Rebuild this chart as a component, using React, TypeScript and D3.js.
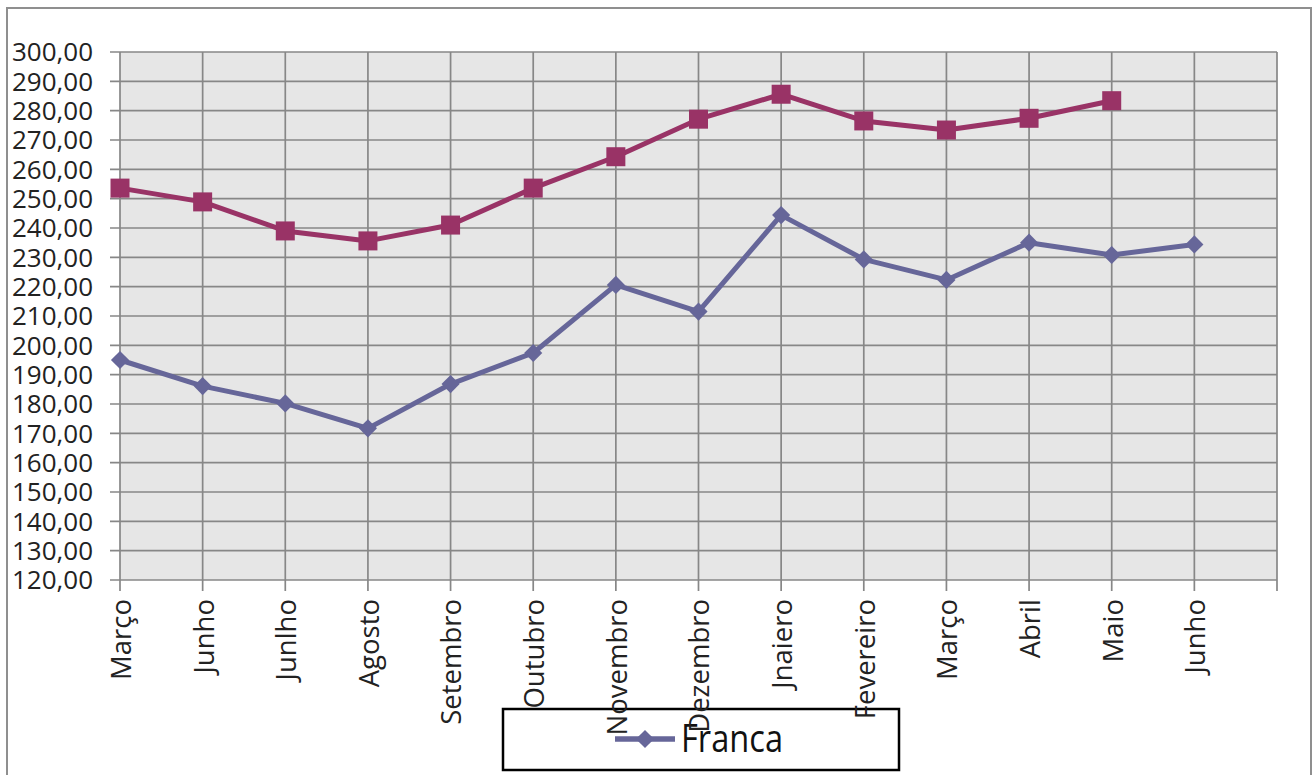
import React, { useEffect, useRef } from 'react';
import * as d3 from 'd3';

const categories = ['Março', 'Junho', 'Junlho', 'Agosto', 'Setembro', 'Outubro', 'Novembro', 'Dezembro', 'Jnaiero', 'Fevereiro', 'Março', 'Abril', 'Maio', 'Junho', ''];
const franca = [195.0, 186.1, 180.2, 171.7, 186.8, 197.4, 220.6, 211.5, 244.4, 229.3, 222.3, 235.0, 230.8, 234.4];
const outra = [253.6, 248.9, 239.0, 235.6, 241.0, 253.6, 264.3, 277.1, 285.6, 276.5, 273.4, 277.4, 283.4];
const yTicks = d3.range(120, 301, 10);

const W = 1313;
const H = 775;

const Chart: React.FC = () => {
    const svgRef = useRef<SVGSVGElement>(null);

    useEffect(() => {
        document.body.style.margin = '0';
        if (!svgRef.current) return;
        const svg = d3.select(svgRef.current);
        svg.selectAll('*').remove();

        const left = 120, right = 1277, top = 52, bottom = 580;
        const x = d3.scalePoint<number>()
            .domain(categories.map((_, i) => i))
            .range([left, right]);
        const y = d3.scaleLinear().domain([120, 300]).range([bottom, top]);
        const fmt = (v: number) => v.toFixed(2).replace('.', ',');
        const font = "'Open Sans', 'DejaVu Sans', sans-serif";
        const grid = '#878787';
        const maroon = '#993366';
        const blue = '#666699';

        // outer frame
        svg.append('rect')
            .attr('x', 7).attr('y', 8)
            .attr('width', 1304).attr('height', H + 20)
            .attr('fill', 'white')
            .attr('stroke', '#8f8f8f')
            .attr('stroke-width', 2);

        // plot background
        svg.append('rect')
            .attr('x', left).attr('y', top)
            .attr('width', right - left).attr('height', bottom - top)
            .attr('fill', '#e6e6e6');

        // horizontal grid + y ticks
        svg.append('g')
            .selectAll('line')
            .data(yTicks)
            .join('line')
            .attr('x1', left - 10)
            .attr('x2', right)
            .attr('y1', d => y(d))
            .attr('y2', d => y(d))
            .style('stroke', grid)
            .style('stroke-width', 1.7);

        // vertical grid + x ticks
        svg.append('g')
            .selectAll('line')
            .data(categories.map((_, i) => i))
            .join('line')
            .attr('x1', d => x(d)!)
            .attr('x2', d => x(d)!)
            .attr('y1', top)
            .attr('y2', bottom + 11)
            .style('stroke', grid)
            .style('stroke-width', 1.7);

        // y labels
        svg.append('g')
            .selectAll('text')
            .data(yTicks)
            .join('text')
            .attr('x', 93)
            .attr('y', d => y(d))
            .attr('dy', '0.36em')
            .attr('text-anchor', 'end')
            .style('font-family', font)
            .style('font-size', '26px')
            .style('fill', '#222')
            .text(d => fmt(d));

        // legend (drawn under the category labels, like the original)
        const diamond = d3.symbol().type(d3.symbolDiamond2).size(210);
        const lg = svg.append('g');
        lg.append('rect')
            .attr('x', 503).attr('y', 709)
            .attr('width', 396).attr('height', 61)
            .attr('fill', 'white')
            .attr('stroke', 'black')
            .attr('stroke-width', 2.5);
        lg.append('line')
            .attr('x1', 615).attr('x2', 675)
            .attr('y1', 739).attr('y2', 739)
            .style('stroke', blue)
            .style('stroke-width', 5.5);
        lg.append('path')
            .attr('transform', 'translate(645,739)')
            .attr('d', diamond)
            .style('fill', blue);
        lg.append('text')
            .attr('x', 681)
            .attr('y', 752)
            .attr('textLength', 102)
            .attr('lengthAdjust', 'spacingAndGlyphs')
            .style('font-family', "'Liberation Sans Narrow', 'Open Sans', sans-serif")
            .style('font-size', '38px')
            .style('fill', '#111')
            .text('Franca');

        // x labels (rotated)
        svg.append('g')
            .selectAll('text')
            .data(categories)
            .join('text')
            .attr('transform', (_, i) => `translate(${x(i)! + 1},599) rotate(-90)`)
            .attr('dy', '0.36em')
            .attr('text-anchor', 'end')
            .style('font-family', font)
            .style('font-size', '27.5px')
            .style('fill', '#222')
            .text(d => d);

        const line = d3.line<number>()
            .x((_, i) => x(i)!)
            .y(d => y(d));

        svg.append('path')
            .datum(outra)
            .attr('d', line)
            .style('fill', 'none')
            .style('stroke', maroon)
            .style('stroke-width', 5)
            .style('stroke-linejoin', 'round');

        svg.append('g')
            .selectAll('rect')
            .data(outra)
            .join('rect')
            .attr('x', (_, i) => x(i)! - 9.5)
            .attr('y', d => y(d) - 9.5)
            .attr('width', 19)
            .attr('height', 19)
            .style('fill', maroon);

        svg.append('path')
            .datum(franca)
            .attr('d', line)
            .style('fill', 'none')
            .style('stroke', blue)
            .style('stroke-width', 5)
            .style('stroke-linejoin', 'round');

        svg.append('g')
            .selectAll('path')
            .data(franca)
            .join('path')
            .attr('transform', (d, i) => `translate(${x(i)},${y(d)})`)
            .attr('d', diamond)
            .style('fill', blue);
    }, []);

    return <svg ref={svgRef} width={W} height={H} style={{ display: 'block' }} />;
};

const App: React.FC = () => <Chart />;

export default App;
